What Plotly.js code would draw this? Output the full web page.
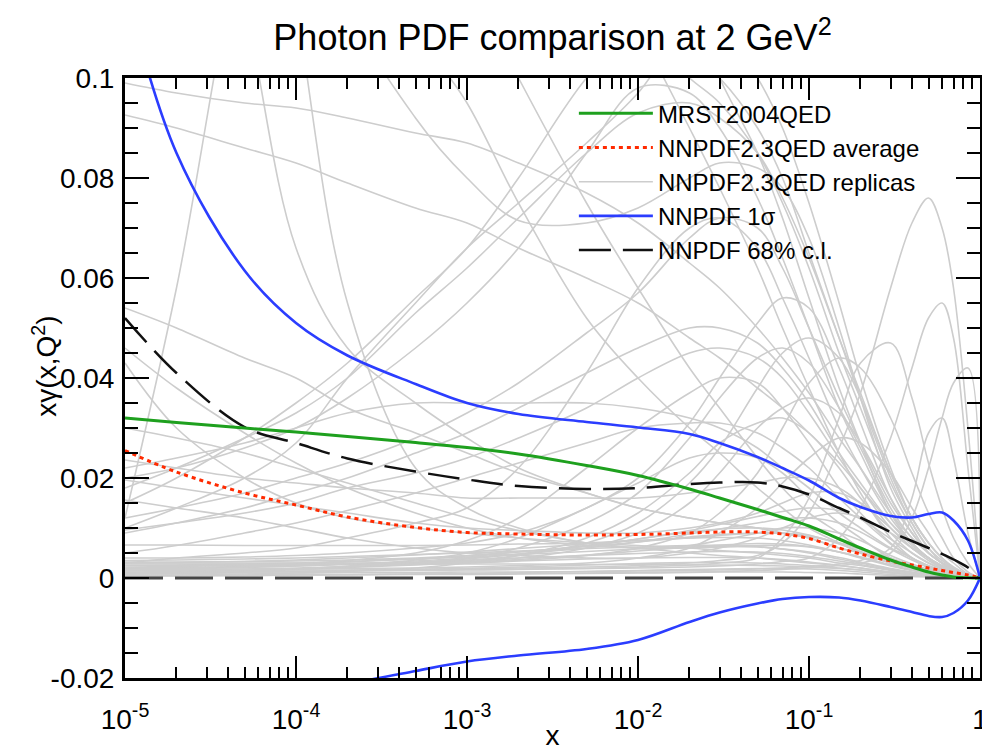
<!DOCTYPE html>
<html><head><meta charset="utf-8">
<script src="https://cdn.plot.ly/plotly-3.0.1.min.js"></script>
<style>html,body{margin:0;padding:0;background:#fff}#chart{width:982px;height:751px}</style>
</head><body><div id="chart"></div>
<script>
// x grid shared by all curves
const X = [1e-5, 2e-5, 5e-5, 1e-4, 2e-4, 5e-4, 1e-3, 2e-3, 5e-3, 1e-2, 2e-2, 3e-2, 5e-2, 0.07, 0.1, 0.15, 0.2, 0.3, 0.4, 0.5, 0.6, 0.7, 0.85, 1];

// central curves
const mrst  = [0.0320,0.0311,0.0300,0.0292,0.0283,0.0271,0.0261,0.0248,0.0225,0.0205,0.0178,0.0160,0.0137,0.0121,0.0104,0.0078,0.0060,0.0036,0.0022,0.0012,0.0006,0.0002,0.00005,0];
const nnAvg = [0.0255,0.0212,0.0170,0.0146,0.0122,0.0101,0.0091,0.0088,0.0086,0.0087,0.0090,0.0092,0.0092,0.0088,0.0079,0.0060,0.0048,0.0034,0.0026,0.0020,0.0015,0.0011,0.0006,0];
const sigUp = [0.118,0.085,0.0615,0.0510,0.0445,0.0388,0.0350,0.0328,0.0312,0.0301,0.0288,0.0270,0.0242,0.0220,0.0195,0.0160,0.0142,0.0124,0.0121,0.0128,0.0131,0.0115,0.0075,0];
const sigDn = [-0.030,-0.0282,-0.0258,-0.0240,-0.0213,-0.0186,-0.0167,-0.0155,-0.0142,-0.0124,-0.0088,-0.0069,-0.0051,-0.0042,-0.0038,-0.0039,-0.0045,-0.0058,-0.0068,-0.0076,-0.0078,-0.0070,-0.0045,0];
const clUp  = [0.0520,0.0410,0.0302,0.0270,0.0239,0.0213,0.0197,0.0184,0.0178,0.0180,0.0188,0.0191,0.0191,0.0183,0.0167,0.0140,0.0121,0.0092,0.0074,0.0060,0.0048,0.0037,0.0021,0];
const clDn  = [0,0,0,0,0,0,0,0,0,0,0,0,0,0,0,0,0,0,0,0,0,0,0,0];

// replicas
const repA1 = [0.099,0.097,0.095,0.094,0.092,0.089,0.087,0.083,0.077,0.071,0.063,0.058,0.050,0.044,0.037,0.028,0.022,0.013,0.008,0.005,0.003,0.002,0.0006,0];
const repA2 = [0.0926,0.090,0.086,0.083,0.079,0.074,0.071,0.066,0.060,0.055,0.048,0.044,0.038,0.034,0.029,0.023,0.018,0.011,0.007,0.004,0.0025,0.0015,0.0005,0];
const repA3 = [0.20,0.17,0.115,0.066,0.046,0.035,0.028,0.022,0.017,0.014,0.012,0.011,0.010,0.009,0.008,0.006,0.005,0.003,0.002,0.0012,0.0007,0.0004,0.0001,0];
const repA4 = [0.30,0.25,0.18,0.115,0.055,0.022,0.014,0.010,0.007,0.006,0.005,0.0045,0.004,0.0035,0.003,0.0025,0.002,0.0012,0.0008,0.0005,0.0003,0.0002,0.0001,0];
const repA5 = [0.30,0.26,0.21,0.17,0.14,0.11,0.095,0.075,0.052,0.040,0.030,0.025,0.018,0.014,0.010,0.007,0.005,0.003,0.002,0.0012,0.0007,0.0004,0.0001,0];
const repA6 = [0.40,0.35,0.30,0.25,0.20,0.15,0.12,0.10,0.075,0.058,0.042,0.034,0.024,0.018,0.013,0.009,0.006,0.003,0.002,0.001,0.0006,0.0003,0.0001,0];
const repA7 = [0.054,0.050,0.044,0.040,0.034,0.029,0.025,0.021,0.017,0.014,0.012,0.011,0.010,0.009,0.008,0.006,0.005,0.003,0.002,0.001,0.0006,0.0003,0.0001,0];
const repA8 = [0.043,0.030,0.020,0.015,0.012,0.010,0.009,0.008,0.007,0.0065,0.006,0.0055,0.005,0.0045,0.004,0.003,0.0025,0.0015,0.001,0.0006,0.0004,0.0002,0.0001,0];
const repA9 = [0.50,0.45,0.40,0.35,0.30,0.25,0.20,0.17,0.13,0.11,0.090,0.078,0.062,0.050,0.038,0.025,0.017,0.008,0.004,0.002,0.001,0.0006,0.0002,0];
const repA10 = [0.60,0.55,0.50,0.45,0.40,0.32,0.26,0.21,0.16,0.14,0.115,0.10,0.085,0.072,0.056,0.038,0.027,0.013,0.007,0.004,0.002,0.001,0.0003,0];
const repF1 = [0.50,0.40,0.25,0.16,0.115,0.092,0.080,0.0715,0.071,0.074,0.080,0.083,0.082,0.078,0.068,0.050,0.036,0.018,0.010,0.005,0.003,0.0015,0.0005,0];
const repF2 = [0.020,0.022,0.026,0.030,0.036,0.046,0.055,0.066,0.085,0.098,0.097,0.090,0.076,0.064,0.050,0.034,0.025,0.013,0.007,0.004,0.0025,0.0014,0.0004,0];
const repB1 = [0.010,0.014,0.020,0.027,0.040,0.055,0.066,0.075,0.087,0.097,0.11,0.11,0.10,0.09,0.075,0.055,0.040,0.022,0.012,0.007,0.004,0.002,0.0007,0];
const repB2 = [0.015,0.020,0.028,0.035,0.043,0.056,0.066,0.080,0.100,0.11,0.105,0.10,0.09,0.08,0.065,0.048,0.036,0.020,0.011,0.006,0.0035,0.002,0.0006,0];
const repB3 = [0.012,0.014,0.017,0.020,0.023,0.028,0.033,0.039,0.049,0.057,0.068,0.072,0.070,0.062,0.050,0.036,0.027,0.015,0.009,0.005,0.003,0.0018,0.0005,0];
const repB4 = [0.003,0.004,0.005,0.006,0.008,0.011,0.014,0.022,0.041,0.058,0.070,0.072,0.066,0.056,0.044,0.030,0.022,0.012,0.007,0.004,0.002,0.0012,0.0004,0];
const repB5 = [0.018,0.022,0.028,0.033,0.040,0.053,0.062,0.072,0.085,0.093,0.095,0.092,0.085,0.076,0.064,0.048,0.037,0.021,0.012,0.007,0.004,0.0022,0.0007,0];
const repB6 = [0.012,0.058,0.13,0.16,0.16,0.15,0.14,0.13,0.12,0.11,0.10,0.095,0.085,0.075,0.062,0.045,0.034,0.019,0.011,0.006,0.003,0.0015,0.0005,0];
const repE1 = [0.022,0.024,0.027,0.030,0.033,0.035,0.035,0.035,0.035,0.034,0.032,0.030,0.026,0.022,0.018,0.013,0.010,0.006,0.004,0.002,0.0012,0.0007,0.0002,0];
const repE2 = [0.0236,0.022,0.020,0.019,0.018,0.017,0.016,0.016,0.016,0.016,0.017,0.018,0.019,0.020,0.020,0.018,0.015,0.010,0.006,0.004,0.002,0.001,0.0003,0];
const repE3 = [0.0196,0.018,0.016,0.0145,0.013,0.011,0.010,0.0095,0.009,0.009,0.010,0.011,0.013,0.015,0.017,0.017,0.015,0.010,0.006,0.004,0.002,0.001,0.0003,0];
const repE4 = [0.0156,0.014,0.012,0.010,0.008,0.006,0.005,0.0045,0.004,0.004,0.005,0.006,0.008,0.010,0.012,0.013,0.012,0.009,0.006,0.004,0.002,0.001,0.0003,0];
const repE5 = [0.0096,0.011,0.013,0.015,0.018,0.021,0.024,0.028,0.034,0.040,0.045,0.046,0.044,0.040,0.033,0.024,0.018,0.010,0.006,0.0035,0.002,0.001,0.0003,0];
const repE6 = [0.0066,0.0066,0.0065,0.0065,0.0065,0.0065,0.0066,0.0068,0.007,0.0075,0.008,0.0085,0.009,0.009,0.0085,0.007,0.006,0.004,0.0025,0.0015,0.0009,0.0005,0.0002,0];
const repC1 = [0.001,0.001,0.0012,0.0013,0.0015,0.0017,0.0019,0.002,0.0022,0.0025,0.003,0.0035,0.0045,0.007,0.013,0.026,0.037,0.058,0.071,0.076,0.070,0.058,0.030,0];
const repC2 = [0.0015,0.0015,0.0015,0.0016,0.0016,0.0017,0.0017,0.0018,0.0019,0.002,0.0022,0.0024,0.0028,0.0033,0.004,0.008,0.014,0.028,0.042,0.052,0.055,0.048,0.022,0];
const repC3 = [0.0012,0.0012,0.0013,0.0013,0.0014,0.0015,0.0016,0.0017,0.0019,0.0022,0.0026,0.003,0.004,0.008,0.016,0.032,0.043,0.047,0.036,0.023,0.014,0.008,0.003,0];
const repC4 = [0.0006,0.0006,0.0006,0.0007,0.0007,0.0008,0.0008,0.0009,0.001,0.0011,0.0012,0.0013,0.0015,0.0017,0.002,0.0025,0.003,0.005,0.012,0.022,0.032,0.039,0.042,0];
const repC5 = [0.0009,0.0009,0.001,0.001,0.0011,0.0011,0.0012,0.0012,0.0013,0.0014,0.0015,0.0016,0.0018,0.002,0.0023,0.0028,0.0035,0.006,0.016,0.029,0.032,0.024,0.009,0];
const repC6 = [0.002,0.002,0.0022,0.0024,0.0027,0.003,0.0035,0.0045,0.007,0.011,0.019,0.026,0.038,0.045,0.048,0.044,0.036,0.021,0.012,0.007,0.004,0.002,0.0006,0];
const repC7 = [0.001,0.0012,0.0015,0.0018,0.0022,0.003,0.004,0.006,0.011,0.017,0.028,0.036,0.044,0.046,0.043,0.034,0.026,0.014,0.008,0.005,0.003,0.0015,0.0005,0];
const repC8 = [0.003,0.003,0.003,0.003,0.003,0.003,0.003,0.0035,0.0045,0.006,0.009,0.013,0.021,0.030,0.039,0.044,0.042,0.032,0.021,0.013,0.008,0.004,0.0012,0];
const repC9 = [0.0015,0.0018,0.0022,0.0028,0.0035,0.005,0.0075,0.012,0.022,0.030,0.037,0.040,0.039,0.034,0.027,0.018,0.013,0.007,0.004,0.0025,0.0015,0.0008,0.0002,0];
const repC10 = [0.0025,0.0025,0.0026,0.0027,0.0028,0.003,0.0033,0.004,0.006,0.009,0.015,0.021,0.030,0.034,0.036,0.033,0.027,0.016,0.009,0.005,0.003,0.0015,0.0004,0];
const repC11 = [0.0005,0.0006,0.0008,0.001,0.0013,0.002,0.003,0.0045,0.008,0.013,0.021,0.027,0.031,0.032,0.029,0.022,0.016,0.009,0.005,0.003,0.0018,0.001,0.0003,0];
const repC12 = [0.004,0.004,0.0042,0.0045,0.005,0.006,0.007,0.009,0.014,0.020,0.031,0.040,0.051,0.056,0.054,0.042,0.031,0.016,0.009,0.005,0.003,0.0015,0.0004,0];
const repC13 = [0.0018,0.0018,0.0018,0.0018,0.0019,0.002,0.0022,0.0025,0.003,0.004,0.006,0.009,0.014,0.019,0.024,0.028,0.027,0.021,0.014,0.009,0.005,0.003,0.0008,0];
const repC14 = [0.0008,0.001,0.0014,0.0018,0.0024,0.0036,0.005,0.008,0.014,0.019,0.024,0.025,0.024,0.021,0.016,0.011,0.008,0.004,0.0025,0.0015,0.0009,0.0005,0.0001,0];
const repG1 = [0.030,0.028,0.025,0.022,0.019,0.015,0.012,0.0095,0.007,0.006,0.0065,0.0075,0.009,0.010,0.010,0.009,0.0075,0.0045,0.0028,0.0017,0.001,0.0005,0.0001,0];
const repG2 = [0.005,0.0065,0.009,0.011,0.0135,0.017,0.020,0.023,0.027,0.030,0.031,0.031,0.029,0.026,0.022,0.016,0.012,0.0068,0.004,0.0024,0.0014,0.0007,0.0002,0];
const repG3 = [0.046,0.038,0.029,0.023,0.018,0.013,0.010,0.008,0.0065,0.006,0.006,0.0062,0.0065,0.0065,0.0062,0.0052,0.0042,0.0026,0.0016,0.001,0.0006,0.0003,0.0001,0];
const repG4 = [0.009,0.011,0.014,0.017,0.020,0.025,0.029,0.034,0.041,0.046,0.050,0.050,0.047,0.042,0.035,0.025,0.019,0.011,0.0065,0.004,0.0023,0.0012,0.0003,0];
const repD1 = [0.0005,0.0005,0.0005,0.0006,0.0006,0.0007,0.0007,0.0008,0.0009,0.001,0.0011,0.0012,0.0012,0.0012,0.0011,0.001,0.0008,0.0005,0.0003,0.0002,0.0001,0.0001,0,0];
const repD2 = [0.001,0.0011,0.0012,0.0013,0.0015,0.0017,0.0019,0.0022,0.0026,0.0029,0.0031,0.0031,0.003,0.0028,0.0025,0.002,0.0016,0.001,0.0006,0.0004,0.0002,0.0001,0,0];
const repD3 = [0.0015,0.0016,0.0018,0.002,0.0023,0.0027,0.003,0.0034,0.0038,0.004,0.0041,0.0041,0.004,0.0037,0.0032,0.0025,0.002,0.0012,0.0008,0.0005,0.0003,0.0002,0.0001,0];
const repD4 = [0.002,0.0021,0.0023,0.0025,0.0028,0.0032,0.0036,0.004,0.0045,0.0049,0.0052,0.0053,0.0052,0.0049,0.0043,0.0034,0.0027,0.0016,0.001,0.0006,0.0004,0.0002,0.0001,0];
const repD5 = [0.0025,0.0026,0.0028,0.003,0.0033,0.0038,0.0042,0.0047,0.0053,0.0058,0.0062,0.0063,0.0062,0.0058,0.0052,0.0041,0.0032,0.0019,0.0012,0.0007,0.0004,0.0002,0.0001,0];
const repD6 = [0.003,0.0031,0.0033,0.0036,0.004,0.0046,0.0052,0.0059,0.0068,0.0075,0.008,0.0081,0.008,0.0075,0.0066,0.0052,0.004,0.0024,0.0015,0.0009,0.0005,0.0003,0.0001,0];
const repD7 = [0.0035,0.0036,0.0038,0.004,0.0043,0.0047,0.005,0.0054,0.0059,0.0062,0.0065,0.0065,0.0063,0.0058,0.005,0.0038,0.003,0.0018,0.0011,0.0007,0.0004,0.0002,0.0001,0];
const repD8 = [0.0008,0.001,0.0013,0.0017,0.0022,0.003,0.0038,0.0048,0.0064,0.0078,0.0092,0.0098,0.010,0.0096,0.0086,0.0068,0.0053,0.0032,0.002,0.0012,0.0007,0.0004,0.0001,0];
const repD9 = [0.0018,0.0019,0.0021,0.0024,0.0028,0.0034,0.004,0.0048,0.006,0.0072,0.0088,0.0098,0.011,0.0118,0.012,0.011,0.0092,0.0058,0.0036,0.0022,0.0013,0.0007,0.0002,0];
const repD10 = [0.0028,0.0028,0.0028,0.0028,0.0028,0.0028,0.0028,0.0028,0.0027,0.0027,0.0026,0.0026,0.0025,0.0024,0.0022,0.0019,0.0016,0.001,0.0007,0.0004,0.0002,0.0001,0,0];
const repD11 = [0.0012,0.0013,0.0015,0.0018,0.0021,0.0026,0.0031,0.0037,0.0046,0.0054,0.0062,0.0066,0.0069,0.0068,0.0063,0.0052,0.0042,0.0026,0.0016,0.001,0.0006,0.0003,0.0001,0];
const repD12 = [0.0032,0.0032,0.0033,0.0034,0.0036,0.004,0.0045,0.0052,0.0065,0.0078,0.0095,0.0107,0.0123,0.0133,0.014,0.0135,0.0118,0.0078,0.005,0.003,0.0018,0.001,0.0003,0];
const repD13 = [0.0022,0.0023,0.0025,0.0028,0.0032,0.0038,0.0044,0.0052,0.0063,0.0072,0.0082,0.0087,0.009,0.0089,0.0083,0.007,0.0057,0.0036,0.0023,0.0014,0.0008,0.0004,0.0001,0];
const repD14 = [0.0004,0.0004,0.0005,0.0006,0.0007,0.0008,0.0009,0.0011,0.0013,0.0015,0.0017,0.0018,0.0019,0.0019,0.0018,0.0015,0.0012,0.0007,0.0004,0.0003,0.0002,0.0001,0,0];

const REPLICAS = [repD1,repD2,repD3,repD4,repD5,repD6,repD7,repD8,repD9,repD10,repD11,repD12,repD13,repD14,
  repE1,repE2,repE3,repE4,repE5,repE6,repG1,repG2,repG3,repG4,
  repC1,repC2,repC3,repC4,repC5,repC6,repC7,repC8,repC9,repC10,repC11,repC12,repC13,repC14,
  repA1,repA2,repA3,repA4,repA5,repA6,repA7,repA8,repA9,repA10,repF1,repF2,repB1,repB2,repB3,repB4,repB5,repB6];

// axis ticks
const XTICKS = [1e-5, 1e-4, 1e-3, 1e-2, 1e-1, 1];
const XTICKTEXT = ['10<sup>-5</sup>','10<sup>-4</sup>','10<sup>-3</sup>','10<sup>-2</sup>','10<sup>-1</sup>','1'];
const YTICKS = [-0.02, 0, 0.02, 0.04, 0.06, 0.08, 0.1];
const YTICKTEXT = ['-0.02','0','0.02','0.04','0.06','0.08','0.1'];

const XMINOR = [];
for (let e = -5; e < 0; e++) for (let m = 2; m <= 9; m++) XMINOR.push(m * Math.pow(10, e));

const traces = [];
REPLICAS.forEach((r, i) => {
  traces.push({x: X, y: r, type: 'scatter', mode: 'lines', line: {color: '#cdcdcd', width: 1.6, shape: 'spline', smoothing: 1},
    name: 'NNPDF2.3QED replicas', legendgroup: 'rep', showlegend: i === 0, legendrank: 3, hoverinfo: 'skip'});
});
traces.push({x: X, y: clDn, type: 'scatter', mode: 'lines', line: {color: '#444', width: 3, dash: '38px,12px'},
  name: 'NNPDF 68% c.l.', legendgroup: 'cl', showlegend: false});
traces.push({x: X, y: clUp, type: 'scatter', mode: 'lines', line: {color: '#111', width: 2.5, dash: '32px,12px', shape: 'spline', smoothing: 1},
  name: 'NNPDF 68% c.l.', legendgroup: 'cl', showlegend: true, legendrank: 5});
traces.push({x: X, y: sigUp, type: 'scatter', mode: 'lines', line: {color: '#2b3dff', width: 2.6, shape: 'spline', smoothing: 1},
  name: 'NNPDF 1σ', legendgroup: 'sig', showlegend: true, legendrank: 4});
traces.push({x: X, y: sigDn, type: 'scatter', mode: 'lines', line: {color: '#2b3dff', width: 2.6, shape: 'spline', smoothing: 1},
  name: 'NNPDF 1σ', legendgroup: 'sig', showlegend: false});
traces.push({x: X, y: nnAvg, type: 'scatter', mode: 'lines', line: {color: '#ff2a00', width: 3, dash: '4px,4px', shape: 'spline', smoothing: 1},
  name: 'NNPDF2.3QED average', showlegend: true, legendrank: 2});
traces.push({x: X, y: mrst, type: 'scatter', mode: 'lines', line: {color: '#1ea01e', width: 3, shape: 'spline', smoothing: 1},
  name: 'MRST2004QED', showlegend: true, legendrank: 1});

const FONT = 'Liberation Sans, Arial, Helvetica, sans-serif';
const layout = {
  width: 982, height: 751,
  margin: {l: 125, r: 2, t: 78, b: 73},
  paper_bgcolor: '#fff', plot_bgcolor: '#fff',
  font: {family: FONT, color: '#000'},
  title: {text: 'Photon PDF comparison at 2 GeV<sup>2</sup>', font: {size: 36, family: FONT},
    x: 0.5, xref: 'paper', xanchor: 'center', y: 0.95, yref: 'container', yanchor: 'middle'},
  xaxis: {type: 'log', range: [-5, 0], tickmode: 'array', tickvals: XTICKS, ticktext: XTICKTEXT,
    ticks: 'inside', ticklen: 22, tickwidth: 2, tickcolor: '#000', showline: true, linewidth: 3, linecolor: '#000',
    mirror: 'allticks', showgrid: false, zeroline: false, tickfont: {size: 28}, ticklabelstandoff: 14,
    ticklabeloverflow: 'allow',
    minor: {tickmode: 'array', tickvals: XMINOR, ticks: 'inside', ticklen: 11, tickwidth: 2, tickcolor: '#000', showgrid: false},
    title: {text: 'x', font: {size: 28}, standoff: 0}},
  yaxis: {range: [-0.02, 0.1], tickmode: 'array', tickvals: YTICKS, ticktext: YTICKTEXT,
    ticks: 'inside', ticklen: 24, tickwidth: 2, tickcolor: '#000', showline: true, linewidth: 3, linecolor: '#000',
    mirror: 'allticks', showgrid: false, zeroline: false, tickfont: {size: 28}, ticklabelstandoff: 2,
    ticklabeloverflow: 'allow',
    minor: {dtick: 0.005, tick0: 0, ticks: 'inside', ticklen: 13, tickwidth: 2, tickcolor: '#000', showgrid: false}},
  legend: {x: 0.525, xanchor: 'left', y: 0.978, yanchor: 'top', bgcolor: 'rgba(0,0,0,0)', borderwidth: 0,
    font: {size: 24, family: FONT}, traceorder: 'normal', tracegroupgap: 0, itemwidth: 74},
  annotations: [{text: 'xγ(x,Q<sup>2</sup>)', textangle: -90, xref: 'paper', yref: 'paper', x: -0.094, y: 0.52,
    xanchor: 'center', yanchor: 'middle', showarrow: false, font: {size: 28, family: FONT}}],
  showlegend: true
};
Plotly.newPlot('chart', traces, layout, {displayModeBar: false, staticPlot: true});
</script></body></html>
